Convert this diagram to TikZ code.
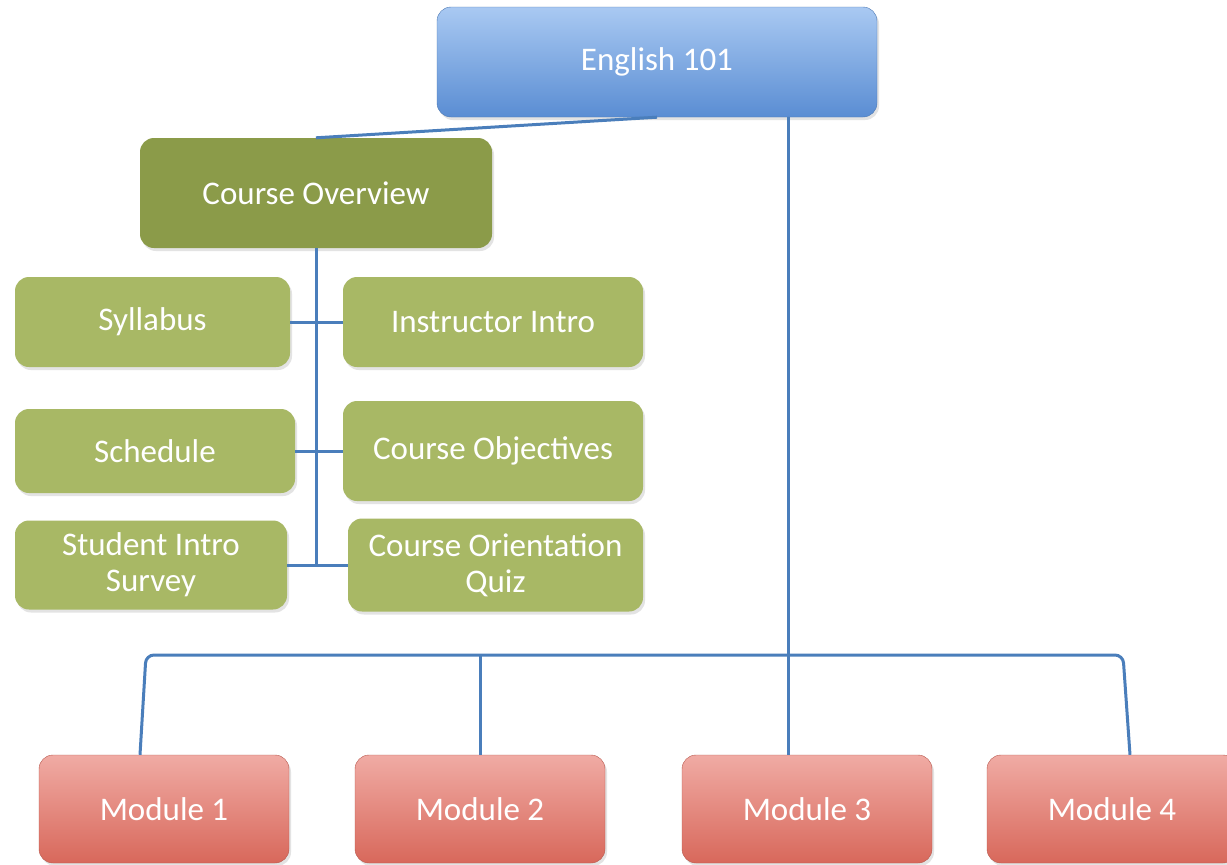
\documentclass[tikz,border=0pt]{standalone}
\usepackage{fontspec}
\setmainfont{Carlito}
\usetikzlibrary{shadows}
\definecolor{blueTop}{HTML}{A9C9F2}
\definecolor{blueBot}{HTML}{5A8DD3}
\definecolor{oliveDark}{HTML}{8B9B49}
\definecolor{oliveLight}{HTML}{A8B865}
\definecolor{redTop}{HTML}{F0ABA4}
\definecolor{redBot}{HTML}{D8685B}
\definecolor{linkBlue}{HTML}{4A7EBB}
\tikzset{x=1pt, y=-1pt, % One unit is one pixel of the page, y runs downwards
box/.style={ % Common look of every box
rounded corners=14pt,
inner sep=0pt,
align=center,
text=white,
font=\fontsize{33}{36}\selectfont,
drop shadow={shadow xshift=2pt, shadow yshift=-3pt, opacity=0.22}},
course/.style={box, top color=blueTop, bottom color=blueBot,
draw=blueBot!85!black, line width=0.4pt},
overview/.style={box, fill=oliveDark},
topic/.style={box, fill=oliveLight},
module/.style={box, top color=redTop, bottom color=redBot,
draw=redBot!85!black, line width=0.4pt,
minimum width=250, minimum height=108},
link/.style={ % Blue connector lines
draw=linkBlue,
line width=3pt}}

\begin{document}
\begin{tikzpicture}
\useasboundingbox (0,0) rectangle (1227,865);
\clip (0,0) rectangle (1227,865);
\fill[white] (0,0) rectangle (1227,865);

\node[course, minimum width=440, minimum height=110] (eng) at (657,62) {English 101};
\node[overview, minimum width=352, minimum height=110] (ovr) at (316,193) {Course Overview};

\node[topic, minimum width=275, minimum height=90] (syl) at (152.5,322) {Syllabus};
\node[topic, minimum width=300, minimum height=90] (ins) at (493,322) {Instructor Intro};
\node[topic, minimum width=280, minimum height=84] (sch) at (155,451) {Schedule};
\node[topic, minimum width=300, minimum height=100] (obj) at (493,451) {Course Objectives};
\node[topic, minimum width=272, minimum height=89] (stu) at (151,565) {Student Intro\\Survey};
\node[topic, minimum width=295, minimum height=93] (quiz) at (495.5,565) {Course Orientation\\Quiz};

\foreach \n/\x in {1/164, 2/480, 3/807, 4/1112}
\node[module] (m\n) at (\x,809) {Module \n};

\coordinate (hub) at (788,655);
\coordinate (busL) at (146,655);
\coordinate (busR) at (1123,655);

% overview branch
\draw[link] (eng.south) -- (ovr.north);
\draw[link] (ovr.south) -- (ovr.south |- stu.east);
\draw[link] (syl.east) -- (ins.west);
\draw[link] (sch.east) -- (obj.west);
\draw[link] (stu.east) -- (quiz.west);

% module branch
\draw[link] (eng.south -| hub) -- (hub |- m3.north);
\draw[link, rounded corners=8pt] ([xshift=-24pt]m1.north) -- (busL) -- (busR) -- ([xshift=18pt]m4.north);
\draw[link] (m2.north) -- (m2.north |- hub);
\end{tikzpicture}
\end{document}
